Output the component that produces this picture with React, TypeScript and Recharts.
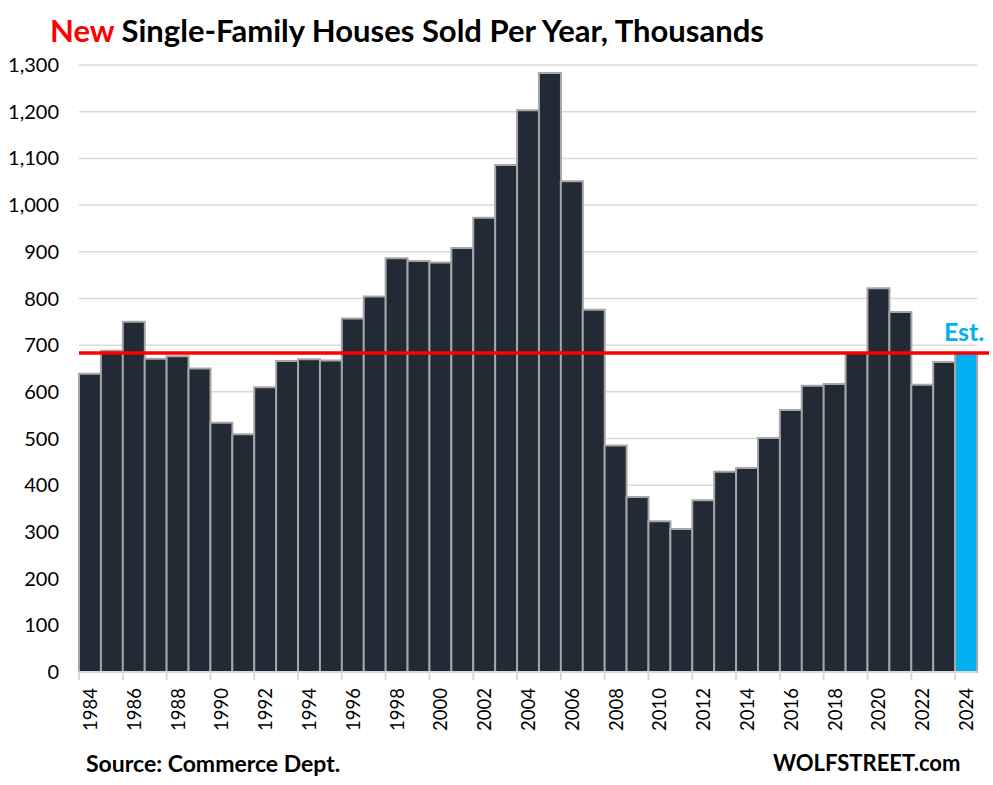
import React from 'react';
import { BarChart, Bar, XAxis, YAxis, CartesianGrid, ReferenceLine, Cell, LabelList } from 'recharts';

const years = [
  '1984','1985','1986','1987','1988','1989','1990','1991','1992','1993',
  '1994','1995','1996','1997','1998','1999','2000','2001','2002','2003',
  '2004','2005','2006','2007','2008','2009','2010','2011','2012','2013',
  '2014','2015','2016','2017','2018','2019','2020','2021','2022','2023','2024',
];
const sales = [
  639, 688, 750, 671, 676, 650, 534, 509, 610, 666,
  670, 667, 757, 804, 886, 880, 877, 908, 973, 1086,
  1203, 1283, 1051, 776, 485, 375, 323, 306, 368, 429,
  437, 501, 561, 613, 617, 683, 822, 771, 615, 664, 683,
];
const estimateYear = '2024';
const referenceLevel = 683;
const yTicks = [0, 100, 200, 300, 400, 500, 600, 700, 800, 900, 1000, 1100, 1200, 1300];

const data = years.map((y, i) => ({ year: y, value: sales[i] }));

const W = 993;
const H = 785;
const PLOT_LEFT = 79;
const PLOT_RIGHT = 977;
const PLOT_TOP = 65;
const PLOT_BOTTOM = 672;
const BAND = (PLOT_RIGHT - PLOT_LEFT) / years.length;
const FONT = 'Lato, "Open Sans", sans-serif';

const XTick = (props: any) => {
  const { x, y, payload } = props;
  const lx = x - BAND / 2;
  return (
    <g>
      <line x1={lx} y1={y} x2={lx} y2={y + 8} stroke="#D9D9D9" strokeWidth={2} />
      <text
        transform={`translate(${x + 7},${y + 16}) rotate(-90)`}
        textAnchor="end"
        fontSize={18.5}
        fontFamily={FONT}
        fill="#000"
      >
        {payload.value}
      </text>
    </g>
  );
};

const EstLabel = (props: any) => {
  const { x, y, width, index } = props;
  if (years[index] !== estimateYear) return null;
  return (
    <text
      x={x + width / 2 - 2}
      y={y - 12}
      textAnchor="middle"
      fontSize={25}
      fontWeight={700}
      fontFamily={FONT}
      fill="#00B0F0"
    >
      Est.
    </text>
  );
};

const RedLine = (props: any) => {
  const { x1, x2, y1 } = props;
  if (x1 == null) return null;
  return <line x1={x1} x2={x2 + 12} y1={y1} y2={y1} stroke="#FF0000" strokeWidth={3.5} />;
};

export default function App() {
  return (
    <div style={{ position: 'fixed', left: 0, top: 0, width: W, height: H, background: '#fff', fontFamily: FONT }}>
      <div
        style={{
          position: 'absolute',
          left: 50,
          top: 11,
          fontSize: 31,
          fontWeight: 700,
          whiteSpace: 'nowrap',
          color: '#000',
          lineHeight: '38px',
        }}
      >
        <span style={{ color: '#FF0000' }}>New</span> Single-Family Houses Sold Per Year, Thousands
      </div>
      <BarChart
        width={W}
        height={H}
        data={data}
        margin={{ top: PLOT_TOP, left: 9, right: W - PLOT_RIGHT, bottom: H - PLOT_BOTTOM - 80 }}
        barCategoryGap={0}
        barGap={0}
      >
        <CartesianGrid vertical={false} stroke="#D9D9D9" strokeWidth={1.5} />
        <XAxis
          dataKey="year"
          interval={1}
          tickLine={false}
          tickSize={0}
          tickMargin={0}
          height={80}
          axisLine={{ stroke: '#D9D9D9', strokeWidth: 2 }}
          tick={<XTick />}
        />
        <YAxis
          width={70}
          domain={[0, 1300]}
          ticks={yTicks}
          axisLine={false}
          tickLine={false}
          tickSize={6}
          tickMargin={14}
          tickFormatter={(v: number) => v.toLocaleString('en-US')}
          tick={{ fontSize: 20, fill: '#000', fontFamily: FONT }}
        />
        <Bar dataKey="value" stroke="#A6A6A6" strokeWidth={2} isAnimationActive={false}>
          {data.map((d) => (
            <Cell key={d.year} fill={d.year === estimateYear ? '#00B0F0' : '#222A35'} />
          ))}
          <LabelList dataKey="value" content={<EstLabel />} />
        </Bar>
        <ReferenceLine y={referenceLevel} ifOverflow="visible" shape={<RedLine />} />
      </BarChart>
      <div style={{ position: 'absolute', left: 86, top: 749, fontSize: 23, fontWeight: 700, color: '#000', whiteSpace: 'nowrap', lineHeight: '28px' }}>
        Source: Commerce Dept.
      </div>
      <div style={{ position: 'absolute', left: 773, top: 749, fontSize: 22, fontWeight: 700, color: '#000', whiteSpace: 'nowrap', lineHeight: '28px' }}>
        WOLFSTREET.com
      </div>
    </div>
  );
}
